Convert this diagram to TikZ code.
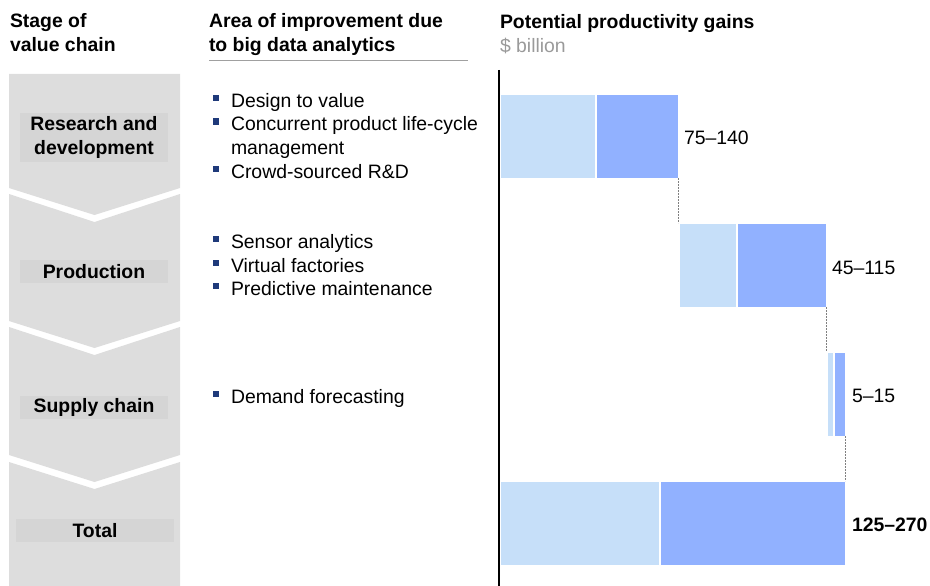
\documentclass[tikz,border=0pt]{standalone}
\usepackage{fontspec}
\setmainfont{Liberation Sans}
\definecolor{lightbar}{HTML}{C6DFF9}
\definecolor{darkbar}{HTML}{91B1FF}
\definecolor{chev}{HTML}{DDDDDD}
\definecolor{labbox}{HTML}{D5D5D5}
\definecolor{navy}{HTML}{1F3A7A}
\definecolor{subgray}{HTML}{9A9A9A}
\definecolor{rulegray}{HTML}{A0A0A0}
\begin{document}
\begin{tikzpicture}[x=1pt,y=-1pt,
 txt/.style={font=\fontsize{19.4}{24}\selectfont, inner sep=0pt, outer sep=0pt, text=black},
 head/.style={txt, font=\fontsize{19.4}{24}\selectfont\bfseries, anchor=base west},
 stagelab/.style={txt, font=\fontsize{19.4}{24}\selectfont\bfseries, fill=labbox, align=center, minimum width=148pt, minimum height=23pt},
 chevron/.style={fill=chev, draw=none},
 bul/.style={fill=navy, inner sep=0pt, outer sep=0pt, minimum size=6pt, anchor=north west},
 btxt/.style={txt, anchor=base west},
 lbar/.style={fill=lightbar, draw=white, line width=0.8pt, inner sep=0pt, outer sep=0pt, anchor=north west, minimum height=84pt},
 dbar/.style={lbar, fill=darkbar},
 link/.style={draw=gray, dash pattern=on 2pt off 1pt, line width=0.7pt},
 val/.style={txt, anchor=west}
]
\useasboundingbox (0,0) rectangle (930,586);
% chevrons
\path[chevron] (9,74) -- (180,74) -- (180,188) -- (94.5,215) -- (9,188) -- cycle;
\path[chevron] (9,194) -- (94.5,222) -- (180,194) -- (180,321) -- (94.5,348) -- (9,321) -- cycle;
\path[chevron] (9,327) -- (94.5,355) -- (180,327) -- (180,455) -- (94.5,482) -- (9,455) -- cycle;
\path[chevron] (9,462) -- (94.5,489) -- (180,462) -- (180,586) -- (9,586) -- cycle;
% headers
\node[head] (h1a) at (10,27.5) {Stage of};
\node[head] (h1b) at (10,51.5) {value chain};
\node[head] (h2a) at (209,27.5) {Area of improvement due};
\node[head] (h2b) at (209,51.5) {to big data analytics};
\node[head] (h3a) at (500,29) {Potential productivity gains};
\node[txt, anchor=base west, text=subgray] (h3b) at (500,52.5) {\$ billion};
\coordinate (ulA) at (209,60);
\coordinate (ulB) at (468,60);
\draw[rulegray, line width=0.9pt] (ulA) -- (ulB);
% stage labels
\node[stagelab, minimum height=48pt] (srd) at (94,137.5) {Research and\\development};
\node[stagelab] (sprod) at (94,271.5) {Production};
\node[stagelab] (ssup) at (94,407) {Supply chain};
\node[stagelab, minimum width=158pt] (stot) at (95,530.5) {Total};
% bullets
\node[bul] (b1) at (212.5,95.5) {};
\node[btxt] (t1) at (231,108) {Design to value};
\node[bul] (b2) at (212.5,118.5) {};
\node[btxt] (t2) at (231,131) {Concurrent product life-cycle};
\node[btxt] (t2b) at (231,154) {management};
\node[bul] (b3) at (212.5,165.5) {};
\node[btxt] (t3) at (231,178) {Crowd-sourced R\&D};
\node[bul] (b4) at (212.5,235.5) {};
\node[btxt] (t4) at (231,248) {Sensor analytics};
\node[bul] (b5) at (212.5,259.5) {};
\node[btxt] (t5) at (231,272) {Virtual factories};
\node[bul] (b6) at (212.5,282.5) {};
\node[btxt] (t6) at (231,295) {Predictive maintenance};
\node[bul] (b7) at (212.5,390.5) {};
\node[btxt] (t7) at (231,403) {Demand forecasting};
% axis
\coordinate (axtop) at (499,70);
\coordinate (axbot) at (499,586);
\draw[line width=2.2pt] (axtop) -- (axbot);
% bars
\node[lbar, minimum width=95pt] (rdL) at (500,94) {};
\node[dbar, minimum width=82pt] (rdD) at (596,94) {};
\node[lbar, minimum width=57pt] (prL) at (679,223) {};
\node[dbar, minimum width=89pt] (prD) at (737,223) {};
\node[lbar, minimum width=6pt] (spL) at (827,352) {};
\node[dbar, minimum width=11pt] (spD) at (834,352) {};
\node[lbar, minimum width=159pt] (ttL) at (500,481) {};
\node[dbar, minimum width=185pt] (ttD) at (660,481) {};
% links
\draw[link] (rdD.south east) -- (rdD.south east |- prL.north west);
\draw[link] (prD.south east) -- (prD.south east |- spL.north west);
\draw[link] (spD.south east) -- (spD.south east |- ttD.north east);
% values
\node[val] (v1) at (684,138) {75–140};
\node[val] (v2) at (832,268) {45–115};
\node[val] (v3) at (852,396) {5–15};
\node[val, font=\fontsize{19.4}{24}\selectfont\bfseries] (v4) at (852,525) {125–270};
\end{tikzpicture}
\end{document}
